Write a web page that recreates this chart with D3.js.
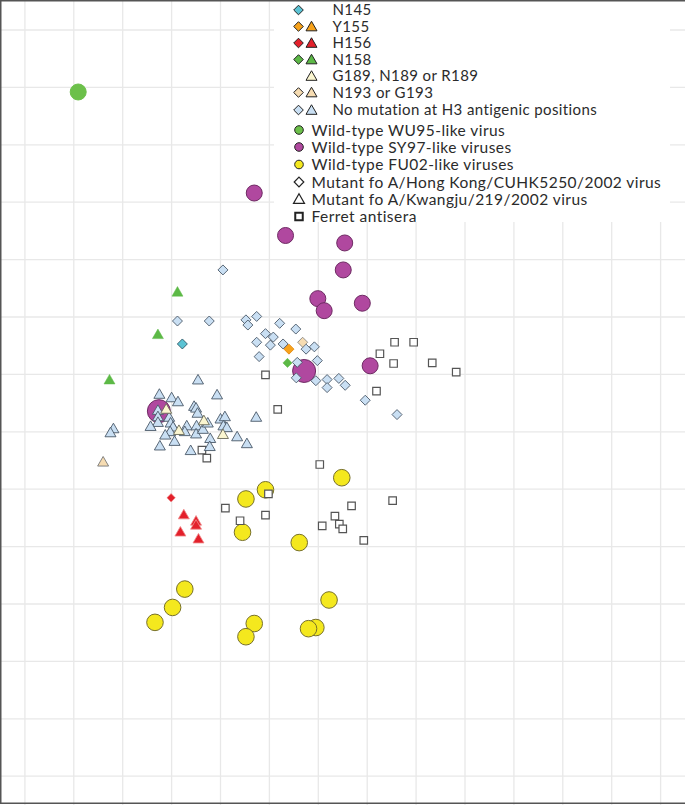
<!DOCTYPE html>
<html>
<head>
<meta charset="utf-8">
<script src="https://cdn.jsdelivr.net/npm/d3@7"></script>
<style>
  html, body { margin: 0; padding: 0; background: #fff; }
  svg { display: block; }
</style>
</head>
<body>
<div id="chart"></div>
<script>
// ---------------- DATA (antigenic map coordinates, grid units) ----------------
const wu95 = [[1.09, 1.08]];

const sy97 = [[4.69, 2.84], [5.33, 3.58], [6.54, 3.71], [6.51, 4.18], [5.99, 4.68],
              [6.12, 4.89], [6.90, 4.76], [5.71, 5.94], [7.06, 5.85], [2.74, 6.64]];
const sy97Kind = ["field", "field", "field", "field", "field",
                  "field", "field", "parent", "field", "parent"];

const fu02 = [[6.48, 7.80], [4.92, 8.01], [4.52, 8.17], [4.45, 8.75], [5.61, 8.93],
              [3.27, 9.74], [3.02, 10.06], [2.66, 10.32], [4.69, 10.34], [4.52, 10.57],
              [6.22, 9.93], [5.95, 10.41], [5.80, 10.43]];

const ferret = [[4.92, 6.01], [5.17, 6.61], [7.56, 5.44], [7.95, 5.44], [7.26, 5.64],
                [7.54, 5.81], [8.33, 5.80], [8.82, 5.96], [7.19, 6.29], [3.62, 7.32],
                [3.72, 7.46], [6.03, 7.57], [4.98, 8.08], [4.10, 8.33], [4.92, 8.45],
                [4.40, 8.55], [6.68, 8.29], [6.34, 8.47], [6.43, 8.61], [6.50, 8.69],
                [6.08, 8.64], [6.93, 8.89], [7.52, 8.20]];

// Mutants of A/Hong Kong/CUHK5250/2002 (diamonds)
const hkNoMutation = [[4.05, 4.18], [3.12, 5.07], [3.77, 5.07], [4.52, 5.05], [4.56, 5.14],
                      [4.74, 4.99], [5.21, 5.11], [5.54, 5.21], [4.92, 5.29], [5.08, 5.35],
                      [4.74, 5.44], [5.02, 5.49], [5.28, 5.47], [5.75, 5.56], [5.92, 5.52],
                      [4.79, 5.69], [5.57, 5.79], [5.98, 5.76], [5.55, 6.06], [5.95, 6.11],
                      [6.18, 6.09], [6.18, 6.23], [6.42, 6.07], [6.55, 6.19], [6.96, 6.45],
                      [7.61, 6.70]];
const hkN145 = [[3.22, 5.47]];
const hkY155 = [[5.40, 5.56]];
const hkH156 = [[2.99, 8.15]];
const hkN158 = [[5.37, 5.80]];
const hkN193 = [[5.68, 5.44]];

// Mutants of A/Kwangju/219/2002 (triangles)
const kjNoMutation = [[3.54, 6.10], [2.75, 6.35], [3.00, 6.41], [3.13, 6.48], [3.93, 6.36],
                      [3.46, 6.56], [3.50, 6.59], [3.53, 6.68], [2.72, 6.63], [2.72, 6.74],
                      [2.95, 6.75], [2.72, 6.84], [2.57, 6.91], [2.98, 6.85], [3.03, 6.92],
                      [3.31, 6.90], [3.27, 7.00], [2.97, 7.00], [2.87, 7.06], [3.06, 7.17],
                      [2.76, 7.25], [3.51, 6.90], [3.50, 7.04], [3.64, 6.96], [3.74, 6.85],
                      [3.79, 7.12], [3.78, 7.26], [3.39, 7.33], [4.00, 6.78], [4.09, 6.74],
                      [4.06, 6.90], [4.13, 6.93], [4.34, 7.09], [4.54, 7.21], [4.73, 6.75],
                      [1.81, 6.95], [1.75, 7.02]];
const kjH156 = [[3.25, 8.45], [3.50, 8.56], [3.50, 8.63], [3.18, 8.75], [3.55, 8.87]];
const kjN158 = [[3.12, 4.57], [2.72, 5.31], [1.73, 6.10]];
const kjG189 = [[2.89, 6.61], [3.15, 6.98], [3.66, 6.81], [4.05, 7.05]];
const kjN193 = [[1.60, 7.53]];

const gridTicks = d3.range(0, 14);

const legendMutations = [
  { label: "N145", diamond: true, triangle: false, key: "n145" },
  { label: "Y155", diamond: true, triangle: true, key: "y155" },
  { label: "H156", diamond: true, triangle: true, key: "h156" },
  { label: "N158", diamond: true, triangle: true, key: "n158" },
  { label: "G189, N189 or R189", diamond: false, triangle: true, key: "g189" },
  { label: "N193 or G193", diamond: true, triangle: true, key: "n193" },
  { label: "No mutation at H3 antigenic positions", diamond: true, triangle: true, key: "none" }
];
const legendGroups = [
  { label: "Wild-type WU95-like virus", shape: "circle", key: "wu95" },
  { label: "Wild-type SY97-like viruses", shape: "circle", key: "sy97" },
  { label: "Wild-type FU02-like viruses", shape: "circle", key: "fu02" },
  { label: "Mutant fo A/Hong Kong/CUHK5250/2002 virus", shape: "diamond", key: "outline" },
  { label: "Mutant fo A/Kwangju/219/2002 virus", shape: "triangle", key: "outline" },
  { label: "Ferret antisera", shape: "square", key: "ferret" }
];

// ---------------- STYLES ----------------
const W = 685, H = 805;
const colors = {
  n145: "#5bc3d4", y155: "#f7a21b", h156: "#e3202b", n158: "#5cb946",
  g189: "#fbf6d0", n193: "#f6dcb2", none: "#c9dff3",
  wu95: "#6cc04a", sy97: "#b0489f", fu02: "#f4e81e", outline: "#ffffff", ferret: "#ffffff"
};

const svg = d3.select("#chart").append("svg").attr("width", W).attr("height", H);

const x = d3.scaleLinear().domain([0, 13]).range([24.9, 24.9 + 13 * 48.9]);
const y = d3.scaleLinear().domain([0, 13]).range([30, 30 + 13 * 57.4]);

// grid
const grid = svg.append("g");
grid.selectAll(".vg").data(gridTicks).join("line")
  .attr("x1", d => x(d)).attr("x2", d => x(d)).attr("y1", 0).attr("y2", H)
  .attr("stroke", "#e8e8e8").attr("stroke-width", 1.3);
grid.selectAll(".hg").data(gridTicks).join("line")
  .attr("y1", d => y(d)).attr("y2", d => y(d)).attr("x1", 0).attr("x2", W)
  .attr("stroke", "#e8e8e8").attr("stroke-width", 1.3);

// shape paths
function diamondPath(h) { return `M0,${-h}L${h},0L0,${h}L${-h},0Z`; }
function trianglePath(s) { const hh = s * 0.87; return `M0,${-hh * 0.6}L${s / 2},${hh * 0.4}L${-s / 2},${hh * 0.4}Z`; }
function squarePath(s) { return `M${-s / 2},${-s / 2}h${s}v${s}h${-s}Z`; }

const plot = svg.append("g");

function drawCircles(data, fill, stroke, rFn) {
  plot.append("g").selectAll("circle").data(data).join("circle")
    .attr("cx", d => x(d[0])).attr("cy", d => y(d[1]))
    .attr("r", (d, i) => rFn(i))
    .attr("fill", fill).attr("stroke", stroke).attr("stroke-width", 1);
}
function drawShapes(data, path, fill, stroke, sw) {
  plot.append("g").selectAll("path").data(data).join("path")
    .attr("transform", d => `translate(${x(d[0])},${y(d[1])})`)
    .attr("d", path).attr("fill", fill).attr("stroke", stroke).attr("stroke-width", sw);
}

drawCircles(wu95, colors.wu95, "#6cc04a", () => 8);
drawCircles(sy97, colors.sy97, "#6e2a63", i => sy97Kind[i] === "parent" ? 11.5 : 8);
drawCircles(fu02, colors.fu02, "#77702a", () => 8.3);

drawShapes(ferret, squarePath(7.5), "#ffffff", "#555", 1.2);

const dia = diamondPath(5), tri = trianglePath(11);
drawShapes(kjNoMutation, tri, colors.none, "#4a5868", 0.9);
drawShapes(kjG189, tri, colors.g189, "#6a6a58", 0.9);
drawShapes(kjN193, tri, colors.n193, "#777", 0.9);
drawShapes(kjN158, tri, colors.n158, "#5cb946", 0.5);
drawShapes(kjH156, tri, colors.h156, "#f08a8a", 0.8);
drawShapes(hkNoMutation, dia, colors.none, "#4a5868", 0.9);
drawShapes(hkN145, dia, colors.n145, "#2f5866", 0.9);
drawShapes(hkY155, dia, colors.y155, "#e48a12", 0.9);
drawShapes(hkN158, diamondPath(4.6), colors.n158, "#5cb946", 0.5);
drawShapes(hkN193, dia, colors.n193, "#888", 0.9);
drawShapes(hkH156, diamondPath(4.2), colors.h156, "#f08a8a", 0.6);

// legend
const lg = svg.append("g");
lg.append("rect").attr("x", 274).attr("y", 0).attr("width", 396).attr("height", 222).attr("fill", "#fff");

const rowY1 = [10, 26.5, 43, 59.5, 76, 92.5, 110];
legendMutations.forEach((m, i) => {
  const yy = rowY1[i];
  if (m.diamond) lg.append("path").attr("transform", `translate(298.5,${yy})`)
    .attr("d", diamondPath(4.8)).attr("fill", colors[m.key]).attr("stroke", "#222").attr("stroke-width", 1);
  if (m.triangle) lg.append("path").attr("transform", `translate(311.5,${yy + 0.5})`)
    .attr("d", trianglePath(11)).attr("fill", colors[m.key]).attr("stroke", "#222").attr("stroke-width", 1);
  lg.append("text").attr("x", 332.5).attr("y", yy).attr("dy", "0.36em")
    .style("font-family", "Lato, sans-serif")
    .attr("font-size", 15).attr("letter-spacing", 0.4).attr("fill", "#2b2b2b").text(m.label);
});
const rowY2 = [130, 147, 164.5, 182, 199, 216.5];
legendGroups.forEach((g, i) => {
  const yy = rowY2[i];
  const t = lg.append("g").attr("transform", `translate(299,${yy})`);
  if (g.shape === "circle") t.append("circle").attr("r", 4.3).attr("fill", colors[g.key]).attr("stroke", "#222").attr("stroke-width", 1);
  if (g.shape === "diamond") t.append("path").attr("d", diamondPath(4.8)).attr("fill", "#fff").attr("stroke", "#222").attr("stroke-width", 1.2);
  if (g.shape === "triangle") t.append("path").attr("transform", "translate(0,0.5)").attr("d", trianglePath(11)).attr("fill", "#fff").attr("stroke", "#222").attr("stroke-width", 1.2);
  if (g.shape === "square") t.append("path").attr("d", squarePath(7.5)).attr("fill", "#fff").attr("stroke", "#222").attr("stroke-width", 2);
  lg.append("text").attr("x", 311.5).attr("y", yy).attr("dy", "0.36em")
    .style("font-family", "Lato, sans-serif")
    .attr("font-size", 15.5).attr("letter-spacing", 0.45).attr("fill", "#2b2b2b").text(g.label);
});

// frame: left, top and bottom edges
svg.append("path").attr("d", `M${W},0.75H0.75V803.25H${W}`)
  .attr("fill", "none").attr("stroke", "#555").attr("stroke-width", 1.5);
</script>
</body>
</html>
